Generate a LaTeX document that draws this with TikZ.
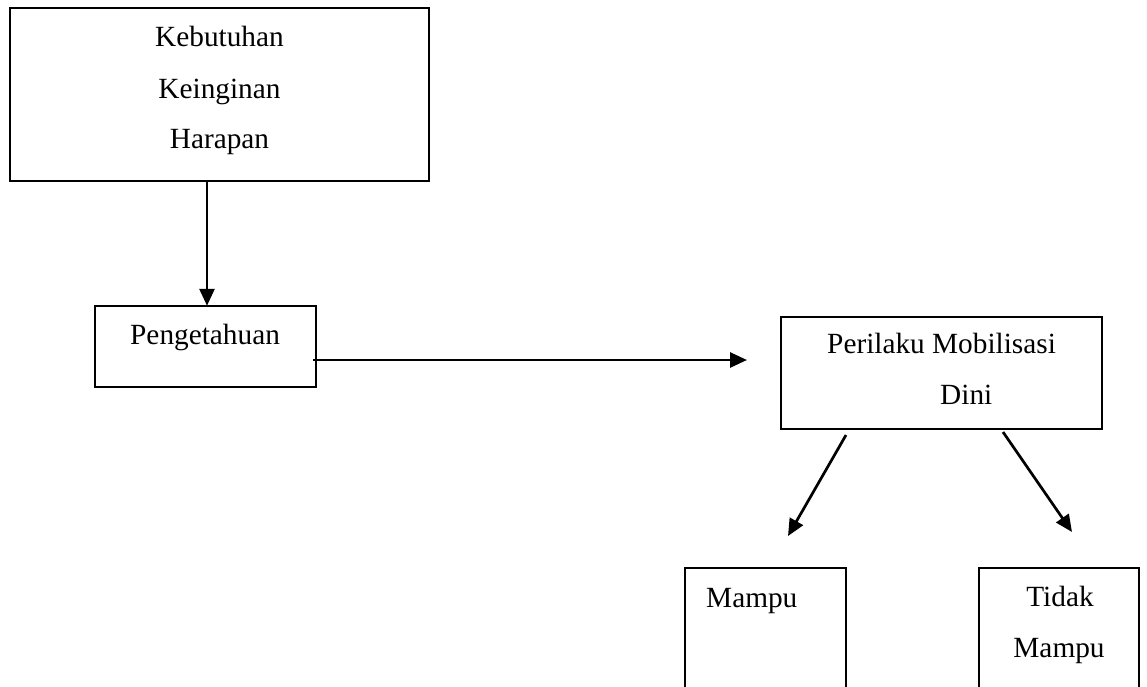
\documentclass[tikz,border=0pt]{standalone}
\usepackage{fontspec}
\setmainfont{Liberation Serif}
\usetikzlibrary{arrows.meta}
\begin{document}
\begin{tikzpicture}[x=1pt,y=-1pt,
  box/.style={draw,line width=2.3pt,inner sep=0pt},
  lbl/.style={inner sep=0pt,font=\fontsize{29.3}{35}\selectfont},
  arr/.style={line width=2.7pt,-{Triangle[length=17pt,width=15pt]}}]
\useasboundingbox (0,0) rectangle (1147,686);
\clip (0,0) rectangle (1147,686);
% boxes
\draw[box] (10,8) rectangle (429,181);
\node[inner sep=0pt,minimum width=419pt,minimum height=173pt] (b1) at (219.5,94.5) {};
\draw[box] (95,306) rectangle (316,387);
\node[inner sep=0pt,minimum width=221pt,minimum height=81pt] (b2) at (205.5,346.5) {};
\draw[box] (781,317) rectangle (1102,429);
\node[inner sep=0pt,minimum width=321pt,minimum height=112pt] (b3) at (941.5,373) {};
\draw[box] (685,720) -- (685,568) -- (846,568) -- (846,720);
\node[inner sep=0pt,minimum width=161pt,minimum height=40pt] (b4) at (765.5,588) {};
\draw[box] (979,720) -- (979,568) -- (1139,568) -- (1139,720);
\node[inner sep=0pt,minimum width=160pt,minimum height=40pt] (b5) at (1059,588) {};
% texts
\node[lbl,anchor=base] (t1) at (219.5,46) {Kebutuhan};
\node[lbl,anchor=base] (t2) at (219.5,98) {Keinginan};
\node[lbl,anchor=base] (t3) at (219.5,148) {Harapan};
\node[lbl,anchor=base west] (t4) at (130,344) {Pengetahuan};
\node[lbl,anchor=base west] (t5) at (827,353) {Perilaku Mobilisasi};
\node[lbl,anchor=base west] (t6) at (940,404) {Dini};
\node[lbl,anchor=base west] (t7) at (706,607) {Mampu};
\node[lbl,anchor=base] (t8) at (1060,606) {Tidak};
\node[lbl,anchor=base] (t9) at (1059,657) {Mampu};
% connector ends
\coordinate (a2s) at (313,360);
\coordinate (a2e) at (747,360);
\coordinate (a3s) at (846,435);
\coordinate (a3e) at (788,536);
\coordinate (a4s) at (1003,432);
\coordinate (a4e) at (1072,532);
% arrows
\draw[arr] (b1.south -| 207,0) -- (b2.north -| 207,0);
\draw[arr] (a2s) -- (a2e);
\draw[arr] (a3s) -- (a3e);
\draw[arr] (a4s) -- (a4e);
\end{tikzpicture}
\end{document}
